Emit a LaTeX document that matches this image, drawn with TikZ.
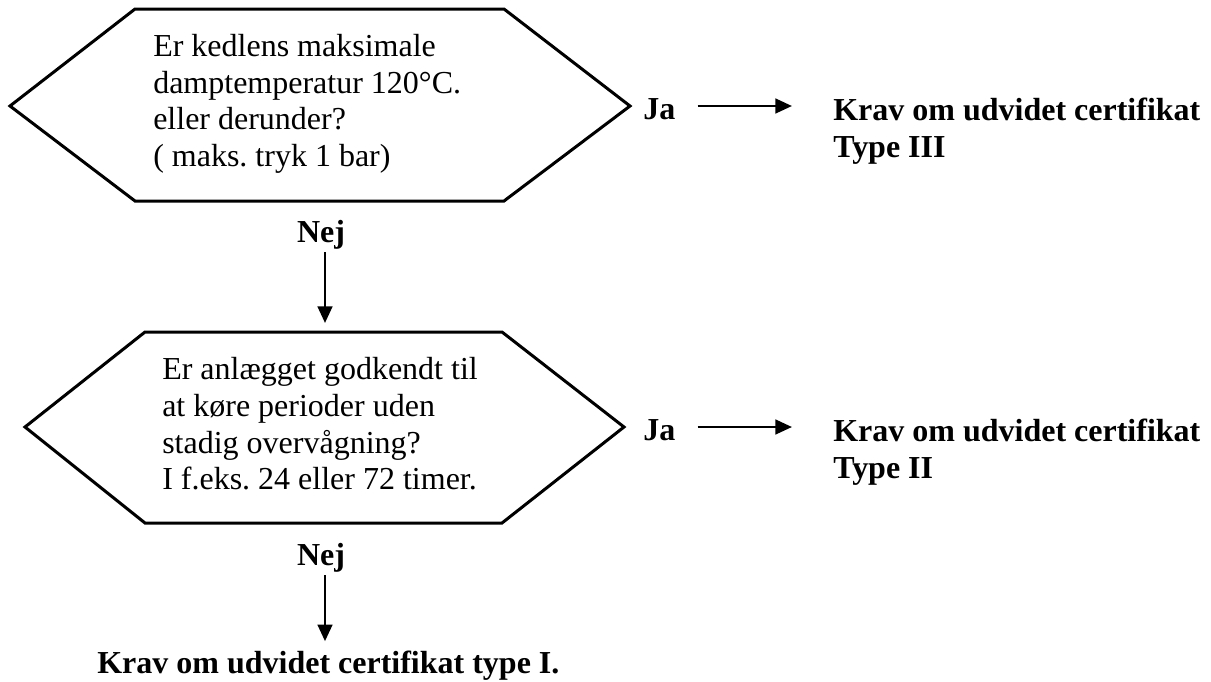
\documentclass[tikz,border=0pt]{standalone}
\usepackage{fontspec}
\setmainfont{Liberation Serif}
\usetikzlibrary{arrows.meta}
\frenchspacing
\begin{document}
\begin{tikzpicture}[x=0.75pt,y=-0.75pt,
  hexline/.style={line width=2.25pt, line join=miter},
  arr/.style={line width=2pt, -{Triangle[length=12.5pt,width=11pt]}},
  qtext/.style={inner sep=0pt, align=left, font=\fontsize{24}{27.5}\selectfont},
  btext/.style={inner sep=0pt, font=\fontsize{24}{27.5}\selectfont\bfseries},
  bblock/.style={btext, align=left}]
\useasboundingbox (0,0) rectangle (1211,682);
% hexagon 1
\coordinate (h1W) at (10,106);
\coordinate (h1NW) at (135,9);
\coordinate (h1NE) at (504,9);
\coordinate (h1E) at (630,106);
\coordinate (h1SE) at (504,201);
\coordinate (h1SW) at (135,201);
\draw[hexline] (h1W) -- (h1NW) -- (h1NE) -- (h1E) -- (h1SE) -- (h1SW) -- cycle;
% hexagon 2
\coordinate (h2W) at (25,427);
\coordinate (h2NW) at (145,332);
\coordinate (h2NE) at (502,332);
\coordinate (h2E) at (624,427);
\coordinate (h2SE) at (502,523);
\coordinate (h2SW) at (145,523);
\coordinate (h2N) at (325,332);
\draw[hexline] (h2W) -- (h2NW) -- (h2NE) -- (h2E) -- (h2SE) -- (h2SW) -- cycle;
% texts
\node[qtext, anchor=west] (q1) at (153,104) {Er kedlens maksimale\\damptemperatur 120°C.\\eller derunder?\\( maks. tryk 1 bar)};
\node[qtext, anchor=west] (q2) at (162,424) {Er anlægget godkendt til\\at køre perioder uden\\stadig overvågning?\\I f.eks. 24 eller 72 timer.};
\node[btext, anchor=base west] (ja1) at (643,119) {Ja};
\node[btext, anchor=base west] (ja2) at (643,440) {Ja};
\node[bblock, anchor=west] (k1) at (833,131) {Krav om udvidet certifikat\\Type III};
\node[bblock, anchor=west] (k2) at (833,452) {Krav om udvidet certifikat\\Type II};
\node[btext, anchor=base] (nej1) at (321,242) {Nej};
\node[btext, anchor=base] (nej2) at (321,565) {Nej};
\node[btext, anchor=base west] (fin) at (97,673) {Krav om udvidet certifikat type I.};
% connectors
\draw[arr, shorten <=16.5pt, shorten >=30.75pt] (ja1.east |- h1E) -- (k1.west |- h1E);
\draw[arr, shorten <=16.5pt, shorten >=30.75pt] (ja2.east |- h2E) -- (k2.west |- h2E);
\draw[arr, shorten <=2.25pt, shorten >=6.75pt] (nej1.south -| h2N) -- (h2N);
\draw[arr, shorten <=2.25pt, shorten >=6.75pt] (nej2.south -| h2N) -- (fin.north -| h2N);
\end{tikzpicture}
\end{document}
